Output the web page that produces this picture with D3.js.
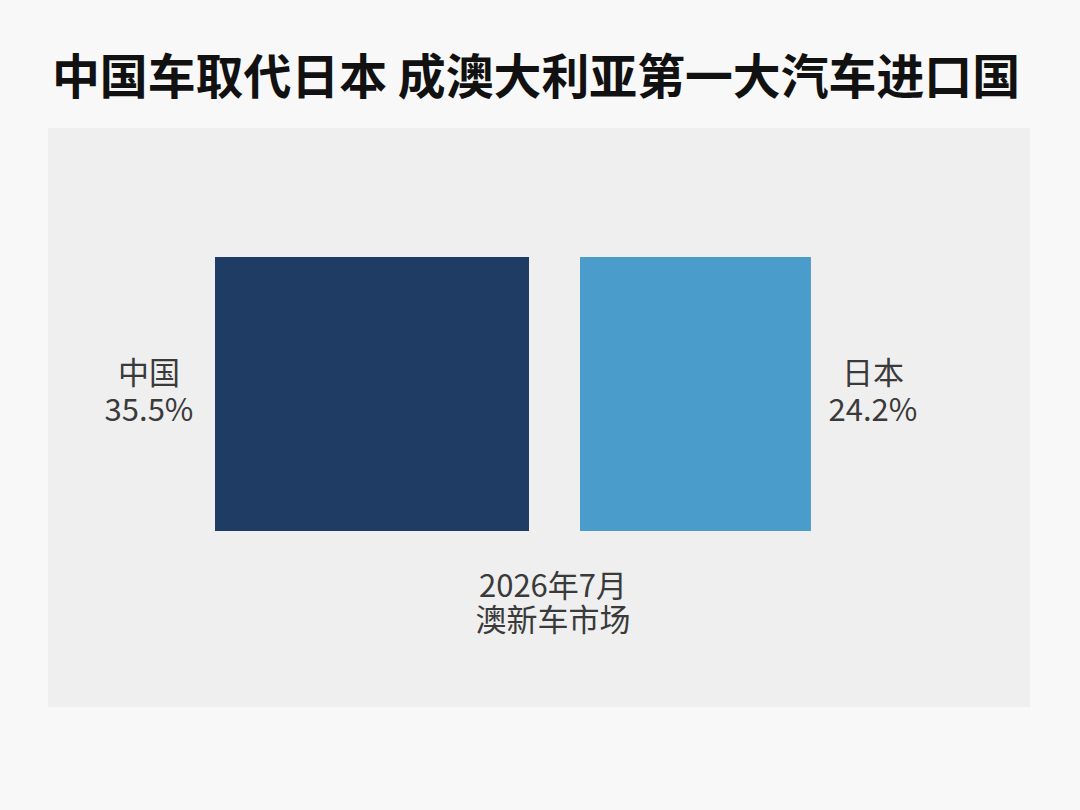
<!DOCTYPE html>
<html><head><meta charset="utf-8">
<script src="https://cdn.jsdelivr.net/npm/d3@7"></script>
<style>html,body{margin:0;padding:0;background:#f8f8f8;}svg{display:block;}</style>
</head><body>
<script>
const title = "中国车取代日本 成澳大利亚第一大汽车进口国";
const categories = ["中国", "日本"];
const values = [35.5, 24.2];
const valueLabels = ["35.5%", "24.2%"];
const colors = ["#1e3c64", "#4a9ccb"];
const subtitle = ["2026年7月", "澳新车市场"];

const W = 1080, H = 810;
const svg = d3.select("body").append("svg").attr("width", W).attr("height", H);
const font = "'Noto Sans CJK SC', 'Noto Sans', sans-serif";

svg.append("rect").attr("width", W).attr("height", H).attr("fill", "#f8f8f8");
svg.append("rect").attr("x", 48).attr("y", 128).attr("width", 982).attr("height", 579).attr("fill", "#efefef");

svg.append("text").attr("x", 52).attr("y", 94)
  .attr("textLength", 968).attr("lengthAdjust", "spacingAndGlyphs")
  .attr("font-family", font).attr("font-weight", 700).attr("font-size", 48)
  .attr("fill", "#111").text(title);

const wScale = d3.scaleLinear().domain([0, d3.max(values)]).range([53, 314]);
const yTop = 257, yBot = 531, cx = 554.5, gap = 51;

const bars = categories.map((c, i) => {
  const w = wScale(values[i]);
  const x = i === 0 ? cx - gap / 2 - w : cx + gap / 2;
  return {c, v: values[i], label: valueLabels[i], color: colors[i], x, w, i};
});

svg.selectAll("rect.bar").data(bars).join("rect").attr("class", "bar")
  .attr("x", d => d.x).attr("y", yTop).attr("width", d => d.w).attr("height", yBot - yTop)
  .attr("fill", d => d.color);

const lab = svg.selectAll("g.lab").data(bars).join("g").attr("class", "lab")
  .attr("transform", d => `translate(${d.i === 0 ? d.x - 66 : d.x + d.w + 62},0)`);
lab.append("text").attr("y", 384).attr("text-anchor", "middle")
  .attr("font-family", font).attr("font-size", 31).attr("fill", "#3a3a3a").text(d => d.c);
lab.append("text").attr("y", 421).attr("text-anchor", "middle")
  .attr("font-family", font).attr("font-size", 31).attr("fill", "#3a3a3a").text(d => d.label);

svg.selectAll("text.sub").data(subtitle).join("text").attr("class", "sub")
  .attr("x", 553).attr("y", (d, i) => 597 + i * 34).attr("text-anchor", "middle")
  .attr("font-family", font).attr("font-size", 31).attr("fill", "#3a3a3a").text(d => d);
</script>
</body></html>
